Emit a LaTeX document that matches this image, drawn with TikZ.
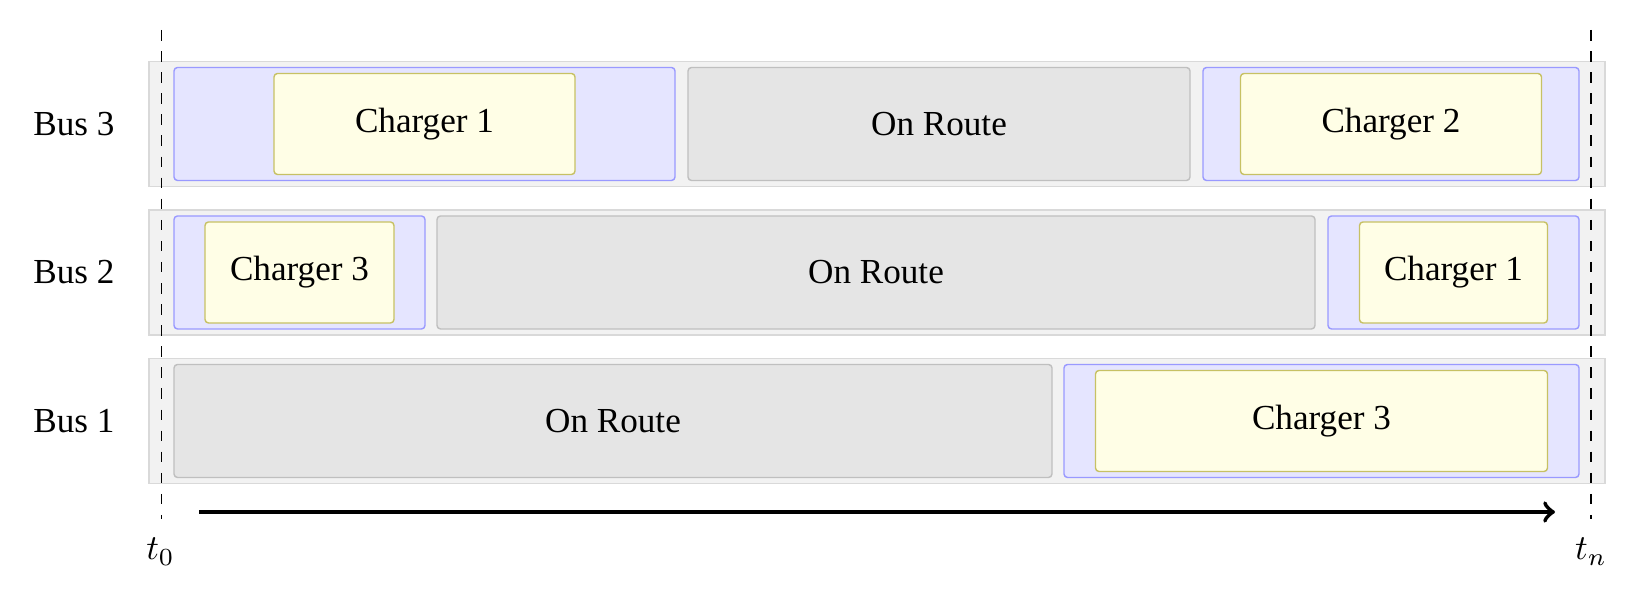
\documentclass[tikz,border=0pt]{standalone}
\usepackage{fontspec}
\setmainfont{Liberation Serif}

\begin{document}
\begin{tikzpicture}[
    busrow/.style={draw=gray!30, fill=gray!10, minimum width=14.56cm, minimum height=1.25cm, inner sep=0pt, outer sep=0pt},
    onroute/.style={draw=gray!50, fill=gray!20, rounded corners=1pt, minimum height=1.13cm, inner sep=0pt},
    depot/.style={draw=blue!40, fill=blue!10, rounded corners=1pt, minimum height=1.13cm, inner sep=0pt},
    charger/.style={draw=olive!50, fill=yellow!10, rounded corners=1pt, minimum height=1.01cm, inner sep=0pt},
]
    \useasboundingbox (0,0) rectangle (16.45,5.90);

    % Row backgrounds
    \node[busrow] (row3) at (8.77,4.66) {};
    \node[busrow] (row2) at (8.77,3.175) {};
    \node[busrow] (row1) at (8.77,1.69) {};

    % Bus names
    \node (bus3) at (0.74,4.66) {Bus 3};
    \node (bus2) at (0.74,3.175) {Bus 2};
    \node (bus1) at (0.74,1.69) {Bus 1};

    % Time bounds
    \coordinate (t0top) at (1.615,5.60);
    \coordinate (t0bot) at (1.615,0.71);
    \coordinate (tntop) at (15.91,5.60);
    \coordinate (tnbot) at (15.91,0.71);
    \draw[dashed] (t0top) -- (t0bot);
    \draw[dashed] (tntop) -- (tnbot);

    % Bus 3
    \node[depot, minimum width=5.01cm] (d3a) at (4.245,4.66) {};
    \node[charger, minimum width=3.01cm] (c3a) at (d3a) {Charger 1};
    \node[onroute, minimum width=5.02cm] (r3) at (9.39,4.66) {On Route};
    \node[depot, minimum width=3.76cm] (d3b) at (13.91,4.66) {};
    \node[charger, minimum width=3.01cm] (c3b) at (d3b) {Charger 2};

    % Bus 2
    \node[depot, minimum width=2.51cm] (d2a) at (2.995,3.175) {};
    \node[charger, minimum width=1.89cm] (c2a) at (d2a) {Charger 3};
    \node[onroute, minimum width=8.78cm] (r2) at (8.76,3.175) {On Route};
    \node[depot, minimum width=2.51cm] (d2b) at (14.535,3.175) {};
    \node[charger, minimum width=1.88cm] (c2b) at (d2b) {Charger 1};

    % Bus 1
    \node[onroute, minimum width=8.78cm] (r1) at (6.13,1.69) {On Route};
    \node[depot, minimum width=5.15cm] (d1) at (13.215,1.69) {};
    \node[charger, minimum width=4.52cm] (c1) at (d1) {Charger 3};

    % Time axis
    \coordinate (tstart) at (1.99,0.78);
    \coordinate (tend) at (15.55,0.78);
    \draw[very thick,->] (tstart) -- (tend);
    \node[anchor=base] (t0) at (1.605,0.30) {$t_0$};
    \node[anchor=base] (tn) at (15.91,0.30) {$t_n$};
\end{tikzpicture}
\end{document}
